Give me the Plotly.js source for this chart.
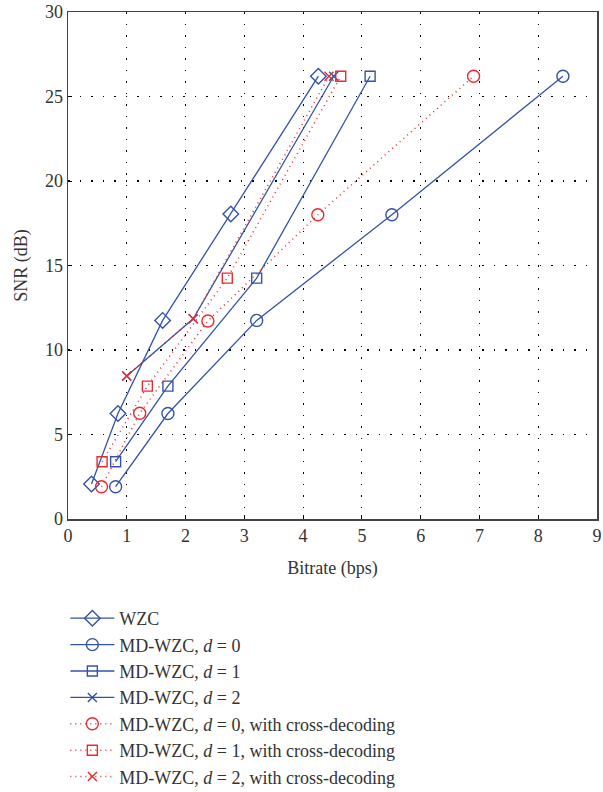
<!DOCTYPE html>
<html>
<head>
<meta charset="utf-8">
<script src="https://cdn.plot.ly/plotly-3.0.1.min.js"></script>
<style>html,body{margin:0;padding:0;background:#fff;}#chart{width:603px;height:792px;}</style>
</head>
<body>
<div id="chart"></div>
<script>
// Data
var wzcX = [0.40, 0.85, 1.61, 2.77, 4.26];
var wzcY = [2.07, 6.24, 11.75, 18.05, 26.2];

var d0X = [0.81, 1.70, 3.21, 5.51, 8.42];
var d0Y = [1.91, 6.24, 11.75, 18.0, 26.2];

var d1X = [0.81, 1.70, 3.21, 5.14];
var d1Y = [3.39, 7.86, 14.25, 26.2];

var d2X = [1.0, 2.13, 4.52];
var d2Y = [8.46, 11.85, 26.2];

var d0cX = [0.57, 1.22, 2.38, 4.25, 6.90];
var d0cY = [1.91, 6.26, 11.72, 18.0, 26.2];

var d1cX = [0.58, 1.35, 2.71, 4.64];
var d1cY = [3.39, 7.86, 14.25, 26.2];

var d2cX = [1.0, 2.13, 4.44];
var d2cY = [8.46, 11.85, 26.2];

var names = [
  'WZC',
  'MD-WZC, <i>d</i> = 0',
  'MD-WZC, <i>d</i> = 1',
  'MD-WZC, <i>d</i> = 2',
  'MD-WZC, <i>d</i> = 0, with cross-decoding',
  'MD-WZC, <i>d</i> = 1, with cross-decoding',
  'MD-WZC, <i>d</i> = 2, with cross-decoding'
];

var xTicks = [0,1,2,3,4,5,6,7,8,9];
var yTicks = [0,5,10,15,20,25,30];

var BLUE = '#3553a6';
var RED = '#ec2a2e';

function tr(x, y, name, color, dash, symbol, size) {
  return {
    x: x, y: y, name: name, type: 'scatter', mode: 'lines+markers',
    line: {color: color, width: dash === 'solid' ? 1.3 : 1.5, dash: dash},
    marker: {symbol: symbol, size: size, color: color,
             line: {color: color, width: 1.4}}
  };
}

var data = [
  tr(wzcX, wzcY, names[0], BLUE, 'solid', 'diamond-open', 12),
  tr(d0X, d0Y, names[1], BLUE, 'solid', 'circle-open', 12),
  tr(d1X, d1Y, names[2], BLUE, 'solid', 'square-open', 10),
  tr(d2X, d2Y, names[3], BLUE, 'solid', 'x-thin', 9),
  tr(d0cX, d0cY, names[4], RED, '1px,4px', 'circle-open', 12),
  tr(d1cX, d1cY, names[5], RED, '1px,4px', 'square-open', 10),
  tr(d2cX, d2cY, names[6], RED, '1px,4px', 'x-thin', 9)
];

var fontFam = '"Liberation Serif", "DejaVu Serif", serif';

var layout = {
  width: 603, height: 792,
  margin: {l: 68, r: 6, t: 12, b: 273},
  paper_bgcolor: '#fff', plot_bgcolor: '#fff',
  font: {family: fontFam, size: 18, color: '#333'},
  showlegend: true,
  legend: {
    x: -0.005, y: 0.2424, xanchor: 'left', yanchor: 'top', yref: 'container',
    font: {family: fontFam, size: 18, color: '#333'},
    bgcolor: 'rgba(0,0,0,0)', tracegroupgap: 0, itemwidth: 44
  },
  xaxis: {
    range: [0, 9], tickvals: xTicks, ticktext: xTicks.map(String),
    showgrid: true, gridcolor: '#000', griddash: '1.5px,10px', gridwidth: 1.2,
    zeroline: false, showline: true, mirror: true, linecolor: '#444', linewidth: 1.5,
    ticks: 'inside', ticklen: 4, tickcolor: '#000',
    tickfont: {family: fontFam, size: 18, color: '#333'},
    title: {text: 'Bitrate (bps)', font: {family: fontFam, size: 18, color: '#333'}, standoff: 16}
  },
  yaxis: {
    range: [0, 30], tickvals: yTicks, ticktext: yTicks.map(String),
    showgrid: true, gridcolor: '#000', griddash: '1.5px,10px', gridwidth: 1.2,
    zeroline: false, showline: true, mirror: true, linecolor: '#444', linewidth: 1.5,
    ticks: 'inside', ticklen: 4, tickcolor: '#000',
    tickfont: {family: fontFam, size: 18, color: '#333'},
    title: {text: 'SNR (dB)', font: {family: fontFam, size: 18, color: '#333'}, standoff: 12}
  }
};

Plotly.newPlot('chart', data, layout, {displayModeBar: false, staticPlot: true});
</script>
</body>
</html>
